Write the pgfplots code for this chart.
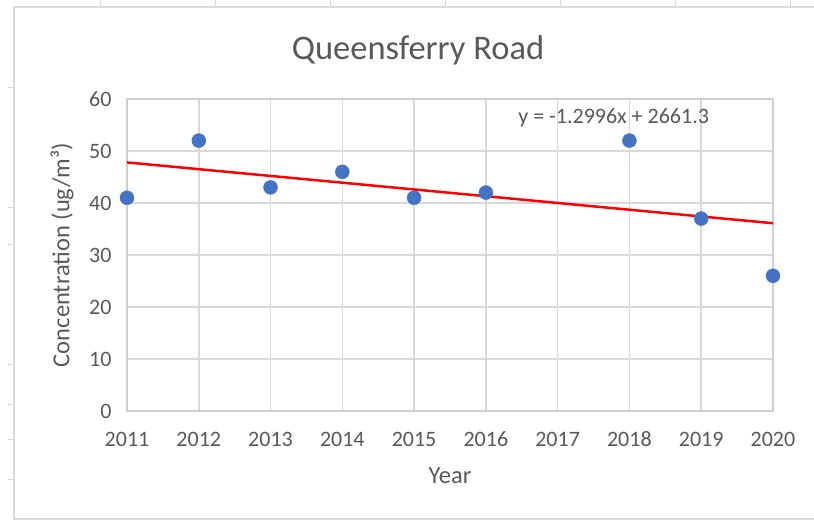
\documentclass[border=0pt]{standalone}
\usepackage{pgfplots}
\pgfplotsset{compat=1.18}
\usepackage{fontspec}
\setmainfont{Carlito}
\definecolor{txt}{HTML}{595959}
\definecolor{gridc}{HTML}{D9D9D9}
\definecolor{axc}{HTML}{CFCFCF}
\definecolor{mblue}{HTML}{4472C4}
\definecolor{sheet}{HTML}{D6D6D6}
\begin{document}
\begin{tikzpicture}[x=1pt,y=1pt]
\path[use as bounding box] (0,0) rectangle (814,521);
\fill[white] (0,0) rectangle (814,521);
\foreach \xx in {100.2,215.5,330.7,445.5,560.7,675,790} \draw[sheet,line width=1pt] (\xx,514) -- (\xx,521);
\foreach \yy in {88,208,245,365,405,440,480} \draw[sheet,line width=1pt] (8,{521-\yy}) -- (14,{521-\yy});
\draw[gridc,line width=2pt] (14,2) rectangle (830,513.5);
\begin{axis}[
  at={(127pt,110pt)}, anchor=south west,
  scale only axis, width=646pt, height=312pt,
  xmin=2011, xmax=2020, ymin=0, ymax=60,
  xtick={2011,2012,...,2020}, ytick={0,10,...,60},
  grid=major,
  major grid style={gridc, line width=1.5pt},
  axis line style={axc, line width=1.5pt},
  major tick length=0pt,
  tick style={draw=none},
  /pgf/number format/.cd, 1000 sep={}, assume math mode=true,
  /pgfplots/.cd,
  ticklabel style={font=\fontsize{22}{26}\selectfont, text=txt},
  xticklabel style={text height=14pt, text depth=0pt, yshift=-18pt},
  yticklabel style={xshift=-12pt},
  title={Queensferry Road},
  title style={at={(axis description cs:0.4505,1.138)}, anchor=center, font=\fontsize{34.5}{40}\selectfont, text=txt},
  xlabel={Year},
  xlabel style={at={(axis description cs:0.5,-0.2083)}, anchor=center, font=\fontsize{24.5}{28}\selectfont, text=txt},
  ylabel={Concentration (ug/m³)},
  ylabel style={at={(axis description cs:-0.1006,0.5)}, anchor=center, font=\fontsize{24.5}{28}\selectfont, text=txt},
]
\addplot[only marks, mark=*, mark size=7pt, mark options={fill=mblue, draw=mblue}] coordinates {
(2011,41) (2012,52) (2013,43) (2014,46) (2015,41) (2016,42) (2018,52) (2019,37) (2020,26)
};
\addplot[red, line width=2.5pt, no marks] coordinates {(2011,47.8044) (2020,36.108)};
\node[font=\fontsize{22}{26}\selectfont, text=txt] at (axis cs:2017.78,56.35) {y = -1.2996x + 2661.3};
\end{axis}
\end{tikzpicture}
\end{document}
